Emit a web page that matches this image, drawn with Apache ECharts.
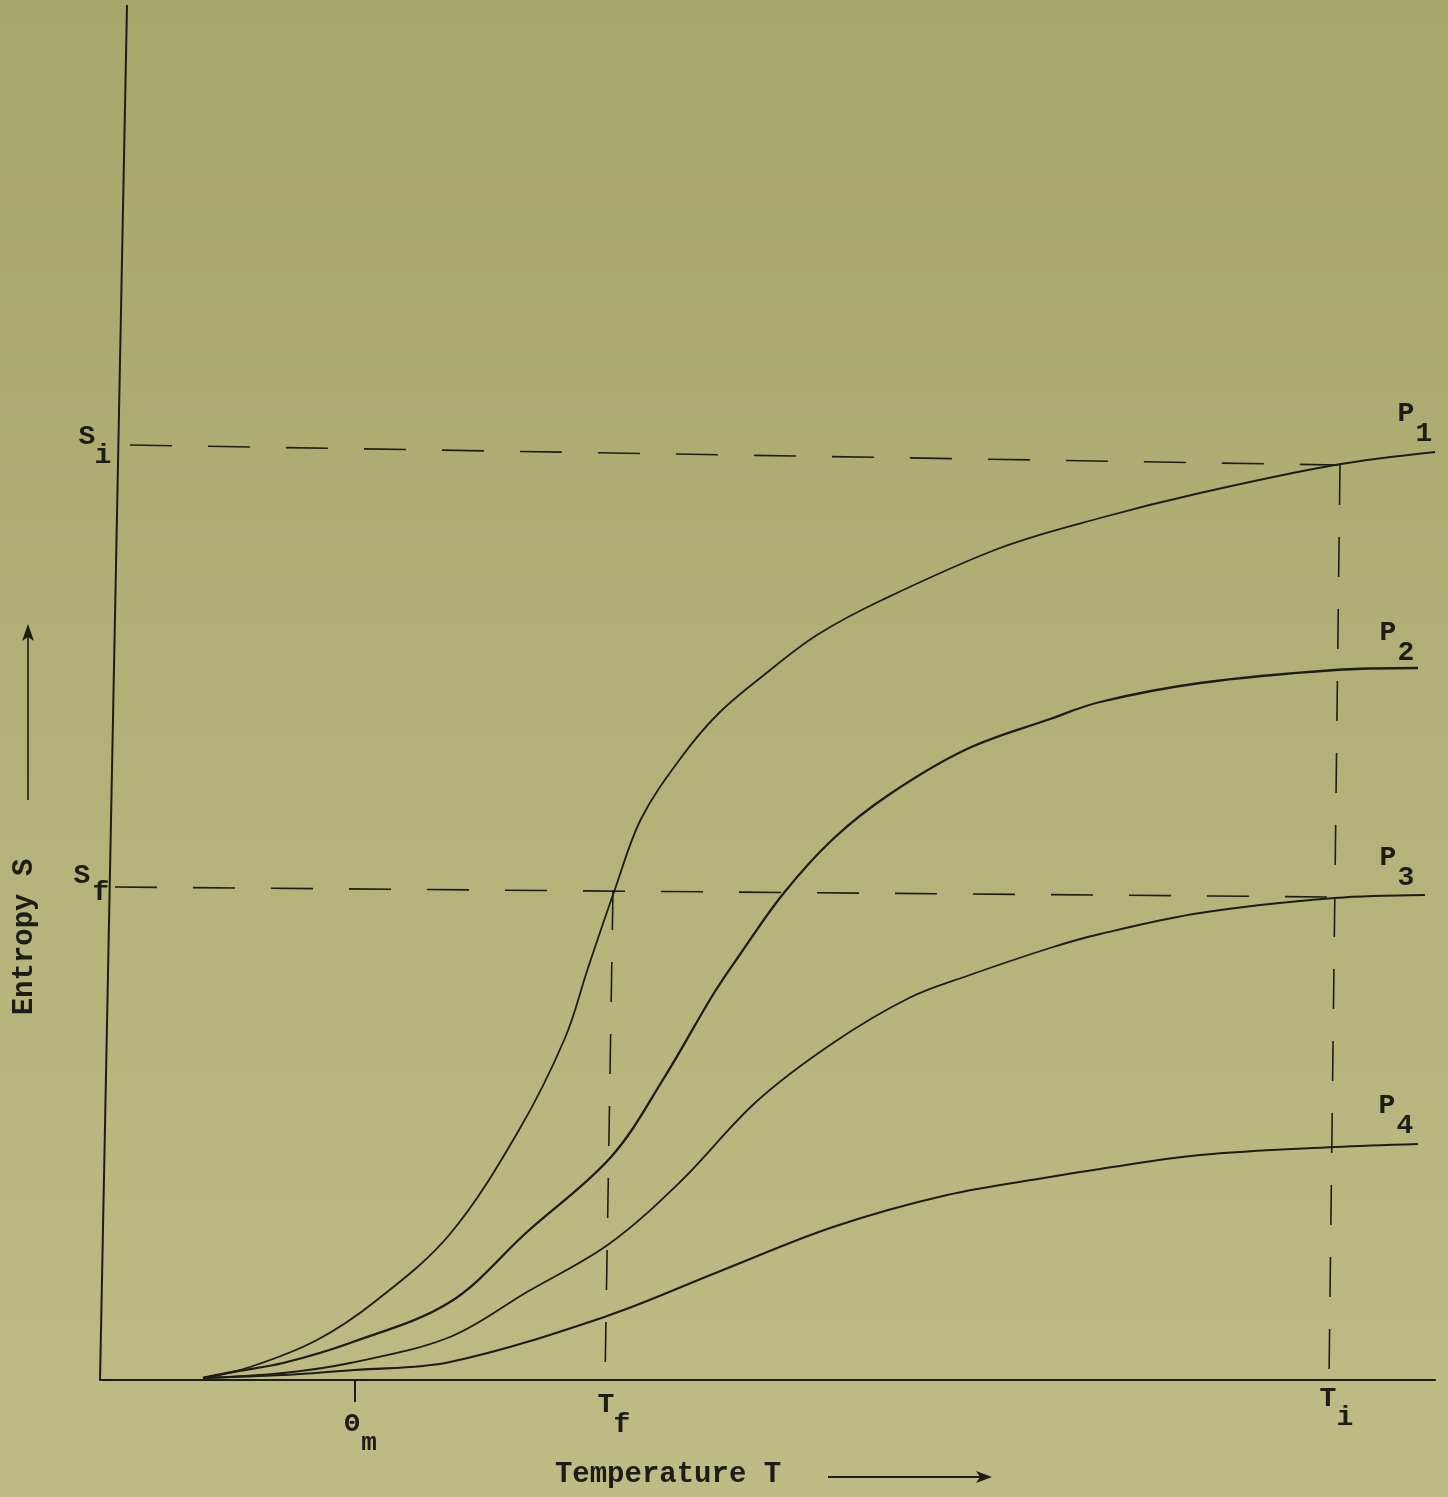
<!DOCTYPE html>
<html lang="en">
<head>
    <meta charset="UTF-8">
    <title>Entropy S vs Temperature T</title>
    <script type="text/javascript" src="https://cdn.jsdelivr.net/npm/echarts@6/dist/echarts.min.js"></script>
    <style>
        html, body { margin: 0; padding: 0; }
        #main { width: 1448px; height: 1497px; }
    </style>
</head>
<body>
<div id="main"></div>

<script>
    // 曲线数据 (读自原图, 任意单位: T 横轴, S 纵轴)
    var p1 = [
        [10.3, 0.2], [15, 1.3], [21.7, 4.0], [27.7, 8.0], [35, 14.6], [41.9, 25.0], [46.5, 34.2],
        [48.8, 41.2], [51.4, 48.8], [54.1, 56.1], [58, 62.1], [61.8, 66.6], [66.4, 70.5],
        [71.7, 74.5], [78.2, 78.0], [90, 83.2], [100, 86.2], [110, 88.7], [123.5, 91.5], [133.5, 92.8]
    ];

    var p2 = [
        [10.3, 0.2], [13.3, 0.8], [18.3, 1.7], [25, 3.7], [35, 7.8], [42.7, 14.8], [51.1, 22.3],
        [56.4, 30.2], [61.4, 38.7], [64.1, 42.7], [68.3, 48.6], [73.3, 54.1], [79, 58.6],
        [86.7, 63.1], [95, 66.1], [100, 67.8], [110, 69.7], [123.5, 71.0], [131.8, 71.2]
    ];

    var p3 = [
        [10.3, 0.2], [18.3, 0.7], [25, 1.7], [35, 4.3], [42.7, 8.8], [50.9, 13.6], [58, 19.8],
        [65.6, 27.8], [73.3, 33.7], [80.9, 38.2], [86.7, 40.4], [95, 43.2], [100, 44.6],
        [110, 46.7], [123.5, 48.2], [132.5, 48.5]
    ];

    var p4 = [
        [10.3, 0.2], [18.3, 0.5], [25.5, 1.0], [35, 1.8], [50.7, 6.4], [61.8, 10.8], [73.3, 15.3],
        [84.7, 18.5], [95, 20.3], [100, 21.1], [110, 22.5], [123.5, 23.3], [131.8, 23.6]
    ];

    // 特征值
    var thetaM = 25.5;
    var tF = 50.5;
    var tI = 122.9;
    var sI = 93.5;
    var sF = 49.3;

    // 虚线 (原图略有倾斜)
    var siLine = [[3, 93.5], [123.8, 91.5]];
    var sfLine = [[1.5, 49.3], [123.5, 48.3]];
    var tfLine = [[51.3, 49.0], [50.5, 0]];
    var tiLine = [[124, 91.5], [122.9, 0]];
    // 纵轴 (原图向右倾斜)
    var sAxisLine = [[0, 0], [2.7, 137.5]];

    var curveNames = ['P', 'P', 'P', 'P'];
    var curveSubs = ['1', '2', '3', '4'];

    var ink = '#1d1d17';
    var font = '"Liberation Mono", "DejaVu Sans Mono", monospace';

    var myChart = echarts.init(document.getElementById('main'));

    function curve(data, w) {
        return {
            type: 'line',
            data: data,
            symbol: 'none',
            smooth: 0.35,
            z: 3,
            lineStyle: {color: ink, width: w}
        };
    }

    function dashed(data, dash) {
        return {
            type: 'line',
            data: data,
            symbol: 'none',
            z: 2,
            lineStyle: {color: ink, width: 1.6, type: dash}
        };
    }

    var option = {
        animation: false,
        backgroundColor: {
            type: 'linear', x: 0, y: 0, x2: 0, y2: 1,
            colorStops: [
                {offset: 0, color: '#a6a76b'},
                {offset: 1, color: '#bebc85'}
            ]
        },
        grid: {left: 100, right: 13, top: 5, bottom: 117},
        xAxis: {
            type: 'value',
            min: 0,
            max: 133.5,
            axisLine: {show: true, onZero: false, lineStyle: {color: ink, width: 2}},
            axisTick: {show: true, customValues: [thetaM], length: 22, lineStyle: {color: ink, width: 2}},
            axisLabel: {show: false},
            splitLine: {show: false}
        },
        yAxis: {
            type: 'value',
            min: 0,
            max: 137.5,
            axisLine: {show: false},
            axisTick: {show: false},
            axisLabel: {show: false},
            splitLine: {show: false}
        },
        series: [
            {
                type: 'line',
                data: sAxisLine,
                symbol: 'none',
                z: 2,
                lineStyle: {color: ink, width: 2}
            },
            dashed(siLine, [42, 36]),
            dashed(sfLine, [42, 36]),
            dashed(tfLine, [40, 32]),
            dashed(tiLine, [40, 32]),
            curve(p1, 1.8),
            curve(p2, 2.3),
            curve(p3, 1.8),
            curve(p4, 2.1)
        ]
    };

    myChart.setOption(option);

    // 文字标注
    function txt(s, x, y, size) {
        return {
            type: 'text',
            x: x,
            y: y,
            style: {
                text: s,
                x: 0,
                y: 0,
                font: 'bold ' + (size || 28) + 'px ' + font,
                fill: ink,
                align: 'center',
                verticalAlign: 'middle',
                textAlign: 'center',
                textVerticalAlign: 'middle'
            }
        };
    }

    function px(x, y) {
        return myChart.convertToPixel({gridIndex: 0}, [x, y]);
    }

    var g = [];
    var base = px(thetaM, 0);
    g.push(txt('Θ', base[0] - 3, 1424, 26));
    g.push(txt('m', base[0] + 14, 1443, 26));
    base = px(tF, 0);
    g.push(txt('T', base[0] + 1, 1405));
    g.push(txt('f', base[0] + 17, 1425));
    base = px(tI, 0);
    g.push(txt('T', base[0] - 1, 1399));
    g.push(txt('i', base[0] + 16, 1418));

    base = px(0, sI);
    g.push(txt('S', 87, base[1] - 8));
    g.push(txt('i', 103, base[1] + 11));
    base = px(0, sF);
    g.push(txt('S', 82, base[1] - 11));
    g.push(txt('f', 101, base[1] + 6));

    var ends = [p1, p2, p3, p4];
    var offs = [[-29, -38], [-30, -35], [-37, -37], [-31, -38]];
    for (var i = 0; i < ends.length; i++) {
        var last = ends[i][ends[i].length - 1];
        var e = px(last[0], last[1]);
        var ox = e[0] + offs[i][0];
        var oy = e[1] + offs[i][1];
        g.push(txt(curveNames[i], ox, oy));
        g.push(txt(curveSubs[i], ox + 18, oy + 20));
    }

    // 轴名称与箭头
    g.push(txt('Temperature T', 668, 1475, 29));
    g.push({type: 'line', shape: {x1: 828, y1: 1477, x2: 982, y2: 1477}, style: {stroke: ink, lineWidth: 2}});
    g.push({type: 'polygon', shape: {points: [[992, 1477], [976, 1471], [980, 1477], [976, 1483]]}, style: {fill: ink}});

    var ent = txt('Entropy S', 25, 937, 29);
    ent.rotation = Math.PI / 2;
    g.push(ent);
    g.push({type: 'line', shape: {x1: 28, y1: 800, x2: 28, y2: 634}, style: {stroke: ink, lineWidth: 1.6}});
    g.push({type: 'polygon', shape: {points: [[28, 624], [22, 641], [28, 637], [34, 641]]}, style: {fill: ink}});

    myChart.setOption({graphic: {elements: g}});
</script>
</body>
</html>
